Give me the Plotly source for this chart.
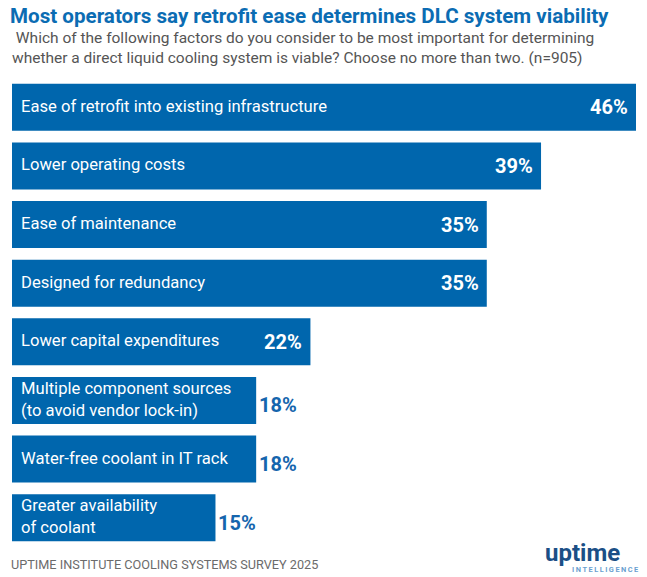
import plotly.graph_objects as go

# Survey data (share of respondents, %)
factors = [
    "Ease of retrofit into existing infrastructure",
    "Lower operating costs",
    "Ease of maintenance",
    "Designed for redundancy",
    "Lower capital expenditures",
    "Multiple component sources<br>(to avoid vendor lock-in)",
    "Water-free coolant in IT rack",
    "Greater availability<br>of coolant",
]
shares = [46, 39, 35, 35, 22, 18, 18, 15]
value_labels = ["46%", "39%", "35%", "35%", "22%", "18%", "18%", "15%"]
label_inside = [True, True, True, True, True, False, False, False]

BLUE = "#0066ad"
TITLE_BLUE = "#0b6cb3"
GREY = "#555555"
FONT = "Roboto"

# the page puts the figure 8px in from the window corner, so the figure is
# sized to fill what is left and reference pixel positions are shifted by OFF
OFF = 8
W, H = 647 - OFF, 577 - OFF
ML, MR, MT, MB = 4, 11, 70, 30
plot_w = W - ML - MR
plot_h = H - MT - MB


def px_to_paper(rx, ry):
    # reference window pixel -> paper coords of the plot area
    fx, fy = rx - OFF, ry - OFF
    return (fx - ML) / plot_w, (H - MB - fy) / plot_h


fig = go.Figure(go.Bar(
    x=shares,
    y=factors,
    orientation="h",
    marker=dict(color=BLUE, line=dict(width=0)),
    hoverinfo="skip",
))

annotations = []
# category names inside the bars, at the left end
for f in factors:
    annotations.append(dict(
        x=0, y=f, xref="x", yref="y", text=f, showarrow=False,
        xanchor="left", yanchor="middle", xshift=7, yshift=1, align="left",
        font=dict(family=FONT, size=16.6, color="white"),
    ))
# value labels at the bar ends
for f, v, lab, ins in zip(factors, shares, value_labels, label_inside):
    if ins:
        annotations.append(dict(
            x=v, y=f, xref="x", yref="y", text="<b>" + lab + "</b>", showarrow=False,
            xanchor="right", yanchor="middle", xshift=-6,
            font=dict(family=FONT, size=20, color="white"),
        ))
    else:
        annotations.append(dict(
            x=v, y=f, xref="x", yref="y", text="<b>" + lab + "</b>", showarrow=False,
            xanchor="left", yanchor="middle", xshift=1, yshift=-5,
            font=dict(family=FONT, size=20, color="#1565ad"),
        ))

# subtitle
sx, sy = px_to_paper(10, 27)
annotations.append(dict(
    x=sx, y=sy, xref="paper", yref="paper", showarrow=False,
    xanchor="left", yanchor="top", align="left",
    text=" Which of the following factors do you consider to be most important for determining"
         "<br>whether a direct liquid cooling system is viable? Choose no more than two. (n=905)",
    font=dict(family=FONT, size=15.5, color=GREY),
))
# source line
sx, sy = px_to_paper(9, 564)
annotations.append(dict(
    x=sx, y=sy, xref="paper", yref="paper", showarrow=False,
    xanchor="left", yanchor="middle",
    text="UPTIME INSTITUTE COOLING SYSTEMS SURVEY 2025",
    font=dict(family=FONT, size=12.7, color="#6b6b6b"),
))
# logo
sx, sy = px_to_paper(582, 553)
annotations.append(dict(
    x=sx, y=sy, xref="paper", yref="paper", showarrow=False,
    xanchor="center", yanchor="middle", text="<b>uptime</b>",
    font=dict(family=FONT, size=24, color="#1b4f86"),
))
sx, sy = px_to_paper(605, 569)
annotations.append(dict(
    x=sx, y=sy, xref="paper", yref="paper", showarrow=False,
    xanchor="center", yanchor="middle",
    text="<b>" + "\u2009".join("INTELLIGENCE") + "</b>",
    font=dict(family=FONT, size=7.4, color="#6a9fd0"),
))

fig.update_layout(
    width=W, height=H,
    margin=dict(l=ML, r=MR, t=MT, b=MB, pad=0),
    paper_bgcolor="white", plot_bgcolor="white",
    bargap=0.2,
    showlegend=False,
    title=dict(
        text="<b>Most operators say retrofit ease determines DLC system viability</b>",
        x=(10 - OFF) / W, xanchor="left", xref="container",
        y=1 - (16 - OFF) / H, yanchor="middle", yref="container",
        font=dict(family=FONT, size=20.6, color=TITLE_BLUE),
    ),
    xaxis=dict(range=[0, 46], visible=False, fixedrange=True),
    yaxis=dict(autorange="reversed", visible=False, fixedrange=True),
    annotations=annotations,
)

fig.write_html("out.html")
